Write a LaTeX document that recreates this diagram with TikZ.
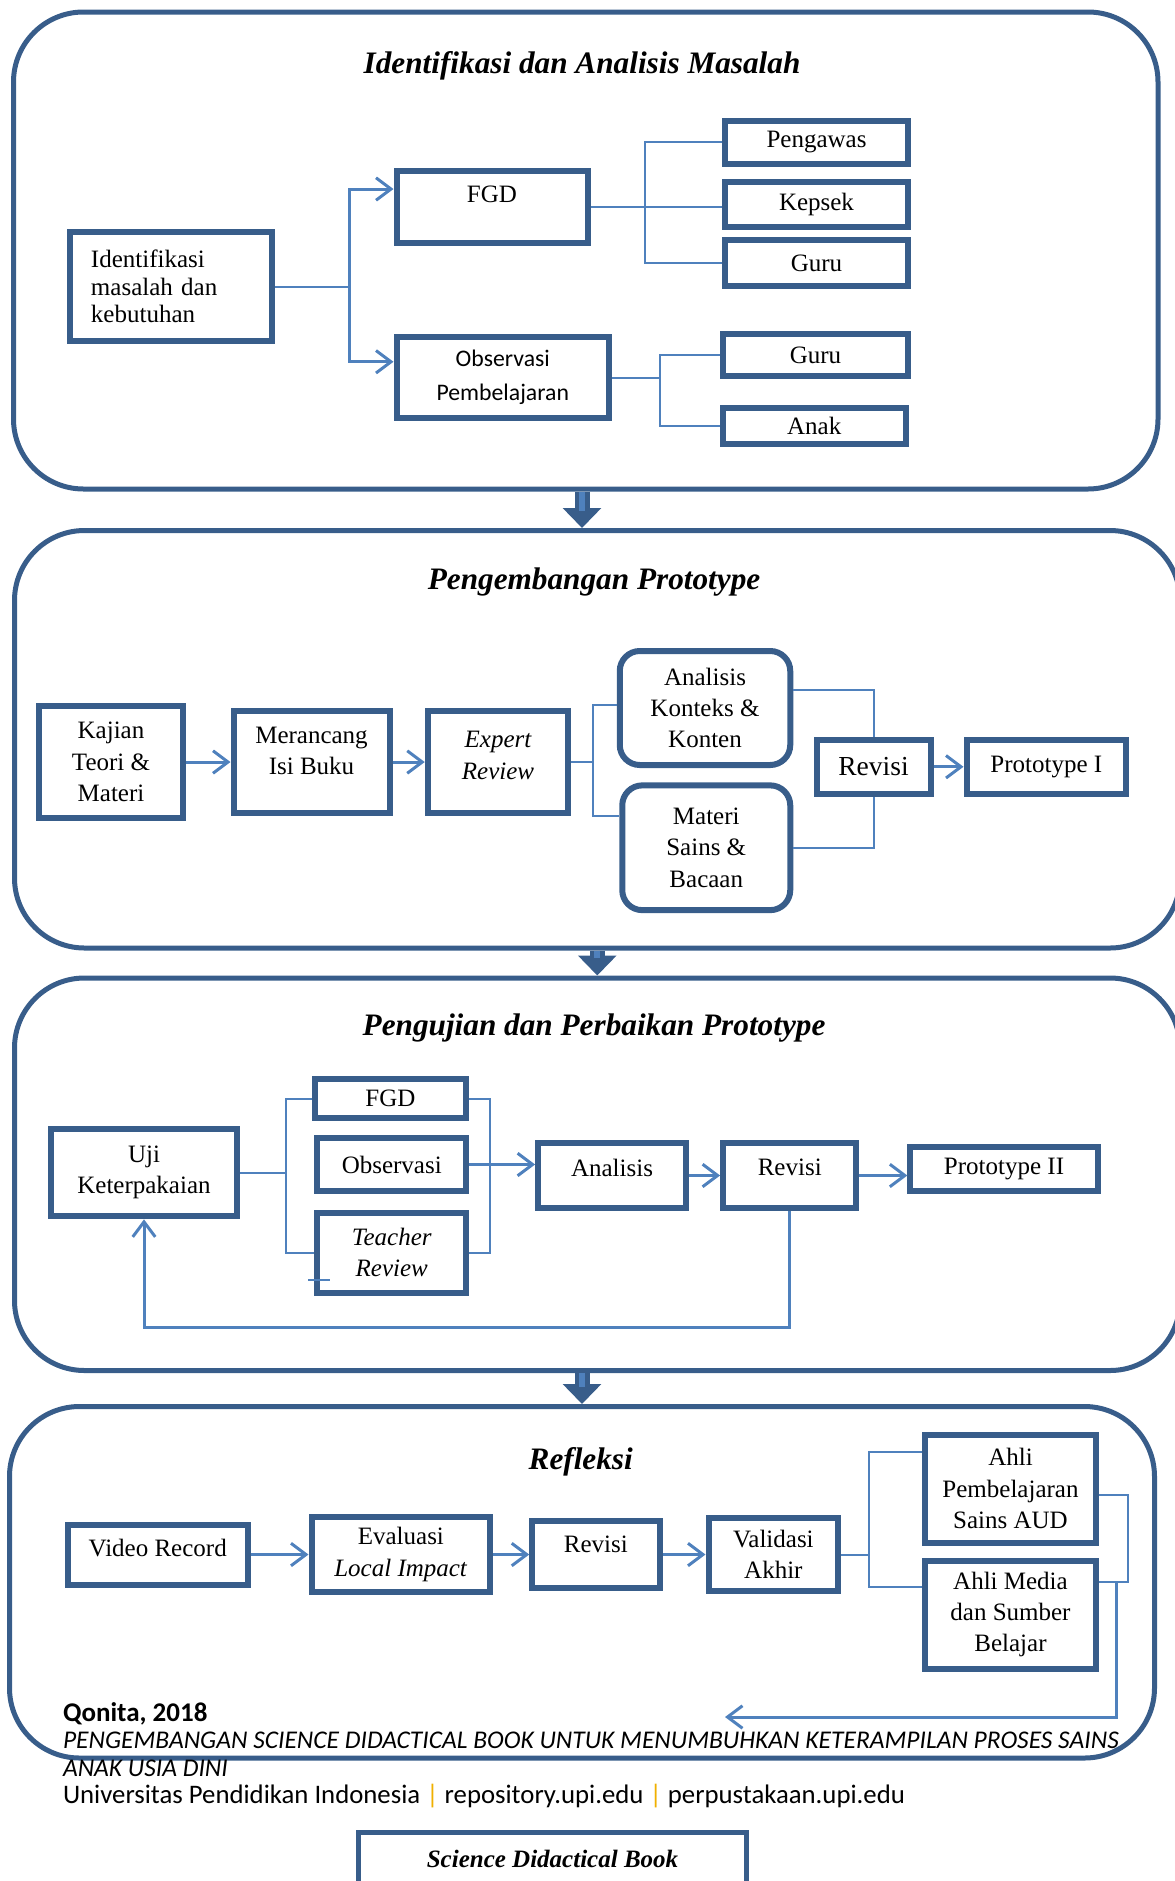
\documentclass[tikz,border=0pt]{standalone}
\usepackage{fontspec}
\setmainfont{Liberation Serif}
\setsansfont{Carlito}
\usepackage{tikz}
\usetikzlibrary{arrows.meta}
\usetikzlibrary{positioning}

\definecolor{boxblue}{HTML}{385D8A}
\definecolor{linkblue}{HTML}{4F81BD}
\definecolor{sepgold}{HTML}{F0B000}

\begin{document}
\begin{tikzpicture}
  [
    x = 1pt, y = -1pt,
    box/.style = {draw = boxblue, line width = 2.4pt, align = center,
                  inner sep = 1pt, font = \fontsize{10}{12.5}\selectfont},
    itbox/.style = {box, font = \fontsize{10}{12.5}\selectfont\itshape},
    rbox/.style = {box, rounded corners = 8pt},
    wh/.style 2 args = {minimum width = #1pt, minimum height = #2pt},
    textup/.style = {text depth = #1},
    panel/.style = {draw = boxblue, line width = 2pt, rounded corners = 28pt},
    heading/.style = {font = \fontsize{12.5}{15}\selectfont\bfseries\itshape},
    footer/.style = {anchor = base west, inner sep = 0pt,
                     font = \sffamily\fontsize{10.7}{12}\selectfont},
    conn/.style = {draw = linkblue, line width = 0.8pt},
    arrow/.style = {draw = linkblue, line width = 1.2pt,
                    -{Straight Barb[length = 6pt, width = 9pt]}},
    bigarrow/.style = {draw = boxblue, line width = 6pt,
                       -{Triangle[length = 8pt, width = 15pt]},
                       postaction = {draw = linkblue, line width = 2.4pt, -,
                                     shorten > = 7pt}},
  ]
  \useasboundingbox (0, 0) rectangle (470, 752.4);

  % the four stages
  \node[panel, wh={457.8}{190.8}] (p1) at (234.3, 100.2) {};
  \node[panel, wh={466.2}{167}] (p2) at (238.9, 295.7) {};
  \node[panel, wh={466.2}{157}] (p3) at (238.9, 469.7) {};
  \node[panel, wh={458}{140.6}] (p4) at (232.8, 632.9) {};

  \draw[bigarrow] (p1.south -| p4.north) -- (p2.north -| p4.north);
  \draw[bigarrow] (p2.south) -- (p3.north);
  \draw[bigarrow] (p3.south -| p4.north) -- (p4.north);

  \node[heading] (t1) at (232.8, 26.4) {Identifikasi dan Analisis Masalah};
  \node[heading] (t2) at (237.6, 232.8) {Pengembangan Prototype};
  \node[heading] (t3) at (237.6, 411.4) {Pengujian dan Perbaikan Prototype};
  \node[heading] (t4) at (232.3, 584.6) {Refleksi};

  % stage 1
  \node[box, wh={80.6}{43.6}, text width = 64pt, align = left,
        inner xsep = 8pt, font = \fontsize{10}{11}\selectfont]
    (ident) at (68.4, 114.7) {Identifikasi\\masalah dan\\kebutuhan};
  \node[box, wh={76.4}{28.8}, textup = 10pt] (fgd1) at (196.8, 82.8) {FGD};
  \node[box, wh={85}{32.6}, font = \sffamily\fontsize{9.5}{13.4}\selectfont]
    (obs1) at (201.1, 151) {Observasi\\Pembelajaran};

  \node[box, wh={73}{18.2}] (kepsek) at (326.6, 81.8) {Kepsek};
  \node[box, wh={73}{17.3}, above = 4.8pt of kepsek] (pengawas) {Pengawas};
  \node[box, wh={73}{18.2}, below = 2.8pt of kepsek] (guru1) {Guru};
  \node[box, wh={73.9}{16.8}] (guru2) at (326.2, 142.1) {Guru};
  \node[box, wh={73}{14.4}] (anak) at (325.7, 170.2) {Anak};

  \draw[conn] (ident.east) -- ++(29.7pt, 0) coordinate (split1);
  \draw[arrow] (split1) |- ([yshift = 7.2pt]fgd1.west);
  \draw[arrow] (split1) |- ([yshift = 6.3pt]obs1.west);
  \draw[conn] (fgd1.east) -- (fgd1.east -| kepsek.west);
  \draw[conn] (pengawas.west) -- ++(-31pt, 0) |- (guru1.west);
  \draw[conn] (obs1.east) -- ++(19.2pt, 0) coordinate (split2);
  \draw[conn] (guru2.west) -| (split2) |- (anak.west);

  % stage 2
  \node[box, wh={57.6}{44.6}] (kajian) at (44.4, 304.8) {Kajian\\Teori \&\\Materi};
  \node[box, wh={62.4}{40.8}, right = 17.8pt of kajian, textup = 9.2pt]
    (merancang) {Merancang\\Isi Buku};
  \node[itbox, wh={56.2}{40.8}, right = 12.9pt of merancang, textup = 5.4pt]
    (expert) {Expert\\Review};
  \node[rbox, wh={68.2}{45.6}] (analisis2) at (282, 283.2) {Analisis\\Konteks \&\\Konten};
  \node[rbox, wh={67.2}{49.9}] (materi) at (282.5, 339.1) {Materi\\Sains \&\\Bacaan};
  \node[box, wh={45.6}{21.6}, font = \fontsize{11}{13}\selectfont]
    (revisi2) at (349.4, 306.7) {Revisi};
  \node[box, wh={63.9}{21.6}, right = 12pt of revisi2] (proto1) {Prototype I};

  \draw[arrow] (kajian.east) -- (merancang.west);
  \draw[arrow] (merancang.east) -- (expert.west);
  \draw[conn] (expert.east) -- ++(8.5pt, 0) coordinate (split3);
  \draw[conn] ([yshift = 1.4pt]analisis2.west) -| (split3) |- ([yshift = 12.7pt]materi.west);
  \draw[conn] ([yshift = 7.2pt]analisis2.east) -| (revisi2.north);
  \draw[conn] (materi.east) -| (revisi2.south);
  \draw[arrow] (revisi2.east) -- (proto1.west);

  % stage 3
  \node[box, wh={74.4}{35.1}] (uji) at (57.6, 469) {Uji\\Keterpakaian};
  \node[box, wh={60.5}{15.3}] (fgd3) at (156.2, 439.4) {FGD};
  \node[box, wh={59.5}{21.2}] (obs3) at (156.7, 465.8) {Observasi};
  \node[itbox, wh={59.5}{32.2}] (teacher) at (156.7, 501.1) {Teacher\\Review};
  \node[box, wh={59.1}{25.9}, textup = 6.4pt] (analisis3) at (244.8, 470.2) {Analisis};
  \node[box, wh={53.3}{25.9}, right = 12.5pt of analisis3, textup = 6.4pt]
    (revisi3) {Revisi};
  \node[box, wh={74.9}{17.8}, right = 19.2pt of revisi3, yshift = 2.7pt]
    (proto2) {Prototype II};

  \draw[conn] (uji.east) -- ++(18.5pt, 0) coordinate (split4);
  \draw[conn] (fgd3.west) -| (split4) |- (teacher.west);
  \draw[conn] (fgd3.east) -- ++(8.3pt, 0) |- (teacher.east);
  \draw[conn] ([yshift = -10.9pt]teacher.west) ++(-2.4pt, 0) -- ++(8.7pt, 0);
  \draw[arrow] (obs3.east) -- (obs3.east -| analisis3.west);
  \draw[arrow] (analisis3.east) -- (revisi3.west);
  \draw[arrow] (revisi3.east) -- (revisi3.east -| proto2.west);
  \draw[arrow] (revisi3.south) -- ++(0, -46.5pt) -| (uji.south);

  % stage 4
  \node[box, wh={72}{24}, textup = 5.2pt] (video) at (63.1, 621.8) {Video Record};
  \node[box, wh={71.5}{30.2}, right = 23.1pt of video]
    (evaluasi) {Evaluasi\\\textit{Local Impact}};
  \node[box, wh={50.9}{26.8}, right = 14.4pt of evaluasi, textup = 8pt]
    (revisi4) {Revisi};
  \node[box, wh={51.9}{29.2}, right = 17.2pt of revisi4] (validasi) {Validasi\\Akhir};
  \node[box, wh={68.7}{43.2}] (ahli1) at (404.2, 595.4) {Ahli\\Pembelajaran\\Sains AUD};
  \node[box, wh={68.7}{43.2}, below = 4.8pt of ahli1] (ahli2) {Ahli Media\\dan Sumber\\Belajar};

  \draw[arrow] (video.east) -- (evaluasi.west);
  \draw[arrow] (evaluasi.east) -- (revisi4.west);
  \draw[arrow] (revisi4.east) -- (validasi.west);
  \draw[conn] (validasi.east) -- ++(11.1pt, 0) coordinate (split5);
  \draw[conn] ([yshift = 14.7pt]ahli1.west) -| (split5) |- ([yshift = 10.9pt]ahli2.west);
  \draw[conn] ([yshift = -2.6pt]ahli1.east) -- ++(11.6pt, 0) |- ([yshift = 13.1pt]ahli2.east);
  \coordinate (back) at (290, 686.8);
  \draw[arrow] ([xshift = 7pt, yshift = 12.5pt]ahli2.east) |- (back);

  % page footer
  \node[footer, font = \sffamily\bfseries\fontsize{10.8}{13}\selectfont]
    (author) at (25, 688.7) {Qonita, 2018};
  \node[footer, font = \sffamily\itshape\fontsize{10.2}{12}\selectfont] (thesis) at (25, 699.3)
    {PENGEMBANGAN SCIENCE DIDACTICAL BOOK UNTUK MENUMBUHKAN KETERAMPILAN PROSES SAINS};
  \node[footer, font = \sffamily\itshape\fontsize{10.2}{12}\selectfont] (thesis2) at (25, 710.4)
    {ANAK USIA DINI};
  \node[footer] (univ) at (25, 721.3)
    {Universitas Pendidikan Indonesia {\color{sepgold}|} repository.upi.edu
     {\color{sepgold}|} perpustakaan.upi.edu};

  \node[draw = boxblue, line width = 2pt, minimum width = 155pt, minimum height = 40pt,
        anchor = north, text depth = 19pt,
        font = \fontsize{10}{12}\selectfont\bfseries\itshape]
    (sdb) at (221, 732) {Science Didactical Book};
\end{tikzpicture}
\end{document}
